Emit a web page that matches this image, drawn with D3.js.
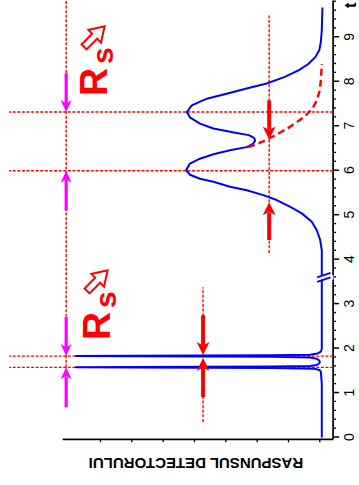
<!DOCTYPE html>
<html lang="ro">
<head>
  <meta charset="UTF-8">
  <title>Rezolutie cromatografica</title>
  <script src="https://d3js.org/d3.v7.min.js"></script>
  <style>
    body { margin: 0; background: #fff; }
    svg { display: block; font-family: "Liberation Sans", Arial, sans-serif; }
  </style>
</head>
<body>
<div id="chart"></div>
<script>
// --- date (t = timp, v = raspunsul detectorului) ---
const timeTicks = [0, 1, 2, 3, 4, 5, 6, 7, 8, 9];
const respTicks = [0, 1, 2, 3, 4, 5, 6, 7];

const signalT = [0.00, 1.20, 1.48, 1.52, 1.545, 1.562, 1.572, 1.578, 1.584, 1.594, 1.606, 1.63, 1.67, 1.70,
  1.73, 1.77, 1.80, 1.817, 1.826, 1.831, 1.837, 1.847, 1.862, 1.89, 1.93, 2.00, 4.20, 4.44, 4.66, 4.85,
  5.04, 5.19, 5.34, 5.45, 5.56, 5.64, 5.75, 5.82, 5.91, 6.01, 6.16, 6.27, 6.37, 6.46, 6.53, 6.60, 6.67,
  6.74, 6.80, 6.85, 6.95, 7.06, 7.20, 7.32, 7.47, 7.62, 7.73, 7.85, 7.96, 8.11, 8.26, 8.40, 8.56, 8.71,
  8.90, 9.16, 9.67];
const signalV = [-0.08, -0.08, -0.05, 0.00, 0.15, 1.5, 6.0, 7.77, 6.0, 1.5, 0.3, 0.08, 0.0, -0.02,
  0.0, 0.08, 0.3, 1.5, 6.0, 7.77, 6.0, 1.5, 0.3, 0.05, -0.05, -0.08, -0.08, -0.03, 0.08, 0.24,
  0.56, 0.94, 1.36, 1.79, 2.32, 2.85, 3.38, 3.81, 4.13, 4.25, 4.13, 3.81, 3.38, 2.85, 2.32, 2.12, 2.05,
  2.08, 2.25, 2.64, 3.38, 3.81, 4.13, 4.23, 4.07, 3.59, 2.96, 2.32, 1.68, 1.10, 0.65, 0.35, 0.12, 0.00,
  -0.05, -0.08, -0.10];

// coada primului pic (linie intrerupta)
const tailT = [6.53, 6.60, 6.69, 6.78, 6.87, 6.98, 7.10, 7.21, 7.32, 7.45, 7.58, 7.77, 7.96, 8.15, 8.40];
const tailV = [2.27, 1.98, 1.70, 1.45, 1.22, 0.95, 0.70, 0.48, 0.32, 0.18, 0.08, 0.00, -0.04, -0.06, -0.08];

// linii de referinta punctate
const peakTimes = [1.578, 1.831, 6.0, 7.32];
const levelV = [8.08, 1.6, 3.71];
const levelFrom = [1.578, 4.15, 0.35];
const levelTo = [9.83, 9.49, 3.38];

// sageti: nivel, de la, pana la
const redArrowV = [1.6, 1.6, 3.71, 3.71];
const redArrowFrom = [7.58, 4.44, 2.75, 0.91];
const redArrowTo = [6.70, 5.29, 1.854, 1.787];
const pinkArrowV = [8.08, 8.08, 8.08, 8.08];
const pinkArrowFrom = [8.19, 5.11, 2.71, 0.68];
const pinkArrowTo = [7.32, 6.0, 1.831, 1.578];

const breakT = 3.6;

// --- desen ---
const W = 359, H = 485;
const svg = d3.select("#chart").append("svg").attr("width", W).attr("height", H);

// graficul e desenat in orientarea normala si apoi rotit cu 90 grade
const g = svg.append("g").attr("transform", `translate(0,${H}) rotate(-90)`);

const x = d3.scaleLinear().domain([0, 9]).range([47.5, 447.7]);
const y = d3.scaleLinear().domain([0, 7]).range([319.3, 100]);
const axisY = y(-0.44);
const axisX = x(-0.04);

// axe
const minorTicks = d3.range(0, 9.81, 0.2).filter(t => Math.abs(t - Math.round(t)) > 0.01);
g.append("g").attr("transform", `translate(0,${axisY})`)
  .call(d3.axisBottom(x).tickValues(minorTicks).tickSize(3).tickFormat(""))
  .call(a => a.select(".domain").remove())
  .selectAll("line").attr("stroke-width", 1.3);
g.append("g").attr("transform", `translate(0,${axisY})`)
  .call(d3.axisBottom(x).tickValues(timeTicks).tickSize(6).tickPadding(5).tickFormat(d3.format("d")))
  .call(a => a.select(".domain").remove())
  .call(a => a.selectAll("line").attr("stroke-width", 1.5))
  .call(a => a.selectAll("text").attr("font-size", 14).attr("fill", "#000"));
g.append("g").attr("transform", `translate(${axisX},0)`)
  .call(d3.axisLeft(y).tickValues(respTicks).tickSize(3).tickFormat(""))
  .call(a => a.select(".domain").remove())
  .selectAll("line").attr("stroke-width", 1.3);

g.append("line").attr("x1", axisX).attr("x2", x(9.83)).attr("y1", axisY).attr("y2", axisY)
  .attr("stroke", "#000").attr("stroke-width", 1.7);
g.append("line").attr("x1", axisX).attr("x2", axisX).attr("y1", axisY).attr("y2", y(8.19))
  .attr("stroke", "#000").attr("stroke-width", 1.7);

g.append("text").attr("x", x(9.66)).attr("y", 356)
  .attr("font-size", 16).attr("font-weight", "bold").text("t");

g.append("text")
  .attr("transform", `translate(21.5,${(axisY + y(8.19)) / 2 - 2}) rotate(-90)`)
  .attr("text-anchor", "middle").attr("dominant-baseline", "central")
  .attr("font-size", 15).attr("font-weight", "bold").text("RASPUNSUL DETECTORULUI");

// linii punctate
const dotted = "3,1.6";
g.selectAll(".vline").data(peakTimes).enter().append("line")
  .attr("x1", d => x(d)).attr("x2", d => x(d))
  .attr("y1", axisY).attr("y2", y(9.9))
  .attr("stroke", "#f00").attr("stroke-width", 1.4).attr("stroke-dasharray", dotted);
g.selectAll(".hline").data(levelV).enter().append("line")
  .attr("x1", (d, i) => x(levelFrom[i])).attr("x2", (d, i) => x(levelTo[i]))
  .attr("y1", d => y(d)).attr("y2", d => y(d))
  .attr("stroke", "#f00").attr("stroke-width", 1.4).attr("stroke-dasharray", dotted);

// semnalul
const line = d3.line().x(d => x(d[0])).y(d => y(d[1]));
const sig = signalT.map((t, i) => [t, signalV[i]]);
g.append("path").datum(sig).attr("d", line)
  .attr("fill", "none").attr("stroke", "#0000ff").attr("stroke-width", 2).attr("stroke-linejoin", "round");

// intreruperea axei timpului
g.append("rect").attr("x", x(breakT - 0.05)).attr("width", x(breakT + 0.05) - x(breakT - 0.05))
  .attr("y", y(0.3)).attr("height", y(-0.45) - y(0.3)).attr("fill", "#fff");
[-0.05, 0.05].forEach(dt => {
  g.append("line")
    .attr("x1", x(breakT + dt + 0.05)).attr("y1", y(-0.36))
    .attr("x2", x(breakT + dt - 0.05)).attr("y2", y(0.07))
    .attr("stroke", "#0000ff").attr("stroke-width", 1.8);
});

const tail = tailT.map((t, i) => [t, tailV[i]]);
g.append("path").datum(tail).attr("d", line)
  .attr("fill", "none").attr("stroke", "#f00").attr("stroke-width", 2.4).attr("stroke-dasharray", "7,4");

// sageti
function arrow(v, from, to, color, bar, L, hw) {
  const x0 = x(from), x1 = x(to), yy = y(v);
  const dir = Math.sign(x1 - x0);
  g.append("line").attr("x1", x0).attr("x2", x1 - dir * (L - 3)).attr("y1", yy).attr("y2", yy)
    .attr("stroke", color).attr("stroke-width", bar);
  g.append("path")
    .attr("d", `M${x1},${yy}L${x1 - dir * L},${yy - hw}L${x1 - dir * (L - 3.5)},${yy}L${x1 - dir * L},${yy + hw}Z`)
    .attr("fill", color);
}
redArrowV.forEach((v, i) => arrow(v, redArrowFrom[i], redArrowTo[i], "#f00", 4, 13, 6.5));
pinkArrowV.forEach((v, i) => arrow(v, pinkArrowFrom[i], pinkArrowTo[i], "#ff00ff", 3.2, 12, 5.5));

// etichete Rs cu sageata goala
function rsLabel(cx, base) {
  g.append("text").attr("x", cx).attr("y", base).attr("fill", "#f00")
    .attr("font-size", 39).attr("font-weight", "bold").text("R");
  g.append("text").attr("x", cx + 32).attr("y", base + 6).attr("fill", "#f00")
    .attr("font-size", 30).attr("font-weight", "bold").text("s");
  g.append("path")
    .attr("transform", `translate(${cx + 59},${base - 13}) rotate(45)`)
    .attr("d", "M-14,-3.5L1,-3.5L1,-9L15,0L1,9L1,3.5L-14,3.5Z")
    .attr("fill", "#fff").attr("stroke", "#f00").attr("stroke-width", 2);
}
rsLabel(389, 107);
rsLabel(145, 110);
</script>
</body>
</html>
